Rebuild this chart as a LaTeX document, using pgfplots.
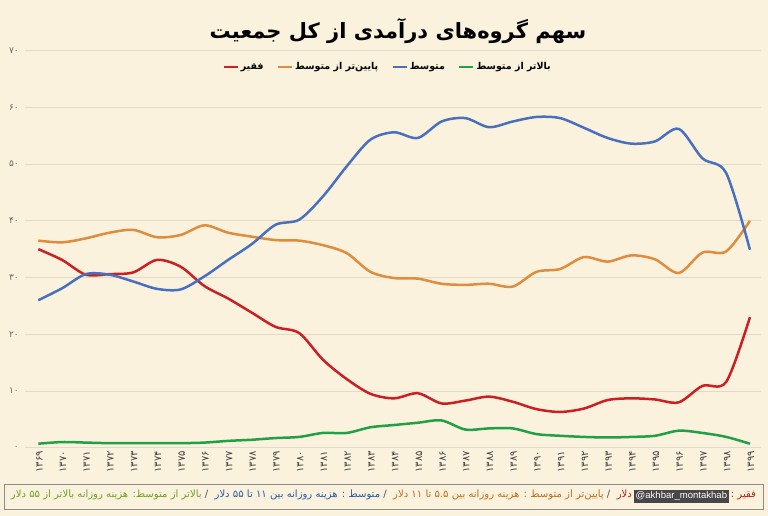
\documentclass[border=0pt]{standalone}
\usepackage{graphicx}
\usepackage{pgfplots}
\pgfplotsset{compat=1.18}
\usepackage{pgfplotstable}
\usepackage{fontspec}
\setmainfont{DejaVu Sans}
\newfontfamily\fa[Script=Arabic]{DejaVu Sans}
\newfontfamily\lat{Liberation Sans}
\TeXXeTstate=1
\newsavebox\wmbox
\definecolor{bg}{RGB}{251,242,221}
\definecolor{gridc}{RGB}{226,218,200}
\definecolor{cred}{RGB}{202,32,36}
\definecolor{corange}{RGB}{222,140,62}
\definecolor{cblue}{RGB}{72,112,190}
\definecolor{cgreen}{RGB}{34,160,72}
\definecolor{fred}{RGB}{190,30,30}
\definecolor{forange}{RGB}{190,110,30}
\definecolor{fblue}{RGB}{40,90,170}
\definecolor{fgreen}{RGB}{110,160,40}
\definecolor{fgray}{RGB}{80,80,80}

\pgfplotstableread{
i poor lower mid upper
0 35.0 36.5 26.0 0.7
1 33.1 36.2 28.1 1.0
2 30.5 36.9 30.6 0.9
3 30.6 37.9 30.5 0.8
4 30.9 38.4 29.3 0.8
5 33.1 37.1 28.0 0.8
6 31.9 37.5 27.9 0.8
7 28.5 39.2 30.2 0.9
8 26.3 37.9 33.1 1.2
9 23.8 37.2 35.9 1.4
10 21.3 36.6 39.3 1.7
11 20.2 36.5 40.2 1.9
12 15.5 35.7 44.3 2.6
13 12.1 34.3 49.6 2.6
14 9.5 31.0 54.3 3.6
15 8.7 29.9 55.6 4.0
16 9.6 29.8 54.6 4.4
17 7.8 28.9 57.5 4.8
18 8.3 28.7 58.1 3.2
19 9.0 28.9 56.5 3.4
20 8.1 28.4 57.5 3.4
21 6.8 31.0 58.3 2.4
22 6.3 31.5 58.1 2.1
23 6.9 33.6 56.4 1.9
24 8.4 32.8 54.6 1.8
25 8.7 33.9 53.6 1.9
26 8.5 33.2 54.0 2.1
27 8.0 30.8 56.2 3.0
28 10.9 34.4 51.0 2.6
29 11.6 34.6 48.4 1.9
30 23.0 40.0 34.9 0.7
}\data

\begin{document}%
\sbox\wmbox{\setlength{\fboxsep}{1.6pt}\colorbox{black!72}{\textcolor{white}{\lat\fontsize{9}{9}\selectfont\strut @akhbar\_montakhab}}}%
\begin{tikzpicture}[x=1pt,y=1pt]
\path[use as bounding box] (0,0) rectangle (768,516);
\fill[bg] (0,0) rectangle (768,516);
\node[font=\fa\bfseries\fontsize{21}{21}\selectfont, inner sep=0] at (398,485) {\beginR سهم گروه‌های درآمدی از کل جمعیت\endR};
\begin{axis}[
  at={(25.3pt,68.3pt)}, anchor=south west,
  scale only axis, width=735.3pt, height=397.1pt,
  xmin=-0.55, xmax=30.45, ymin=0, ymax=70,
  axis line style={draw=none},
  major tick length=0pt,
  ymajorgrids, grid style={gridc, line width=0.7pt},
  xtick={0,...,30},
  xticklabels={۱۳۶۹,۱۳۷۰,۱۳۷۱,۱۳۷۲,۱۳۷۳,۱۳۷۴,۱۳۷۵,۱۳۷۶,۱۳۷۷,۱۳۷۸,۱۳۷۹,۱۳۸۰,۱۳۸۱,۱۳۸۲,۱۳۸۳,۱۳۸۴,۱۳۸۵,۱۳۸۶,۱۳۸۷,۱۳۸۸,۱۳۸۹,۱۳۹۰,۱۳۹۱,۱۳۹۲,۱۳۹۳,۱۳۹۴,۱۳۹۵,۱۳۹۶,۱۳۹۷,۱۳۹۸,۱۳۹۹},
  xticklabel style={rotate=90, anchor=east, font=\fa\fontsize{10}{10}\selectfont, text=black!75, yshift=-1pt},
  ytick={0,10,...,70},
  yticklabels={۰,۱۰,۲۰,۳۰,۴۰,۵۰,۶۰,۷۰},
  yticklabel style={font=\fa\fontsize{9}{9}\selectfont, text=black!60, xshift=-3pt},
  clip=false,
  legend columns=4,
  legend style={at={(0.4926,0.9587)}, anchor=center, draw=none, fill=none,
    font=\fa\bfseries\fontsize{9.5}{9.5}\selectfont,
    /tikz/every even column/.append style={column sep=11pt}},
  legend image code/.code={\draw[#1] (0pt,0pt) -- (14pt,0pt);},
]
\addplot[cred, line width=2.5pt, smooth] table[x=i,y=poor]{\data};
\addlegendentry{\beginR فقیر\endR}
\addplot[corange, line width=2.5pt, smooth] table[x=i,y=lower]{\data};
\addlegendentry{\beginR پایین‌تر از متوسط\endR}
\addplot[cblue, line width=2.5pt, smooth] table[x=i,y=mid]{\data};
\addlegendentry{\beginR متوسط\endR}
\addplot[cgreen, line width=2.5pt, smooth] table[x=i,y=upper]{\data};
\addlegendentry{\beginR بالاتر از متوسط\endR}
\end{axis}
\draw[black!45, line width=0.8pt] (4,7) rectangle (763,32);
\node[inner sep=0] at (383.5,19.5) {\resizebox{745pt}{!}{\fa\fontsize{9.5}{9.5}\selectfont
\textcolor{fgreen}{\hbox{\beginR بالاتر از متوسط: هزینه روزانه بالاتر از ۵۵ دلار\endR}}%
\textcolor{fgray}{\hbox{\ / \ }}%
\textcolor{fblue}{\hbox{\beginR متوسط : هزینه روزانه بین ۱۱ تا ۵۵ دلار\endR}}%
\textcolor{fgray}{\hbox{\ / \ }}%
\textcolor{forange}{\hbox{\beginR پایین‌تر از متوسط : هزینه روزانه بین ۵.۵ تا ۱۱ دلار\endR}}%
\textcolor{fgray}{\hbox{\ / \ }}%
\textcolor{fred}{\hbox{\beginR دلار\endR}}\hspace{2pt}\raisebox{-1pt}{\usebox\wmbox}\hspace{2pt}%
\textcolor{fred}{\hbox{\beginR فقیر :\endR}}}};
\end{tikzpicture}%
\end{document}
